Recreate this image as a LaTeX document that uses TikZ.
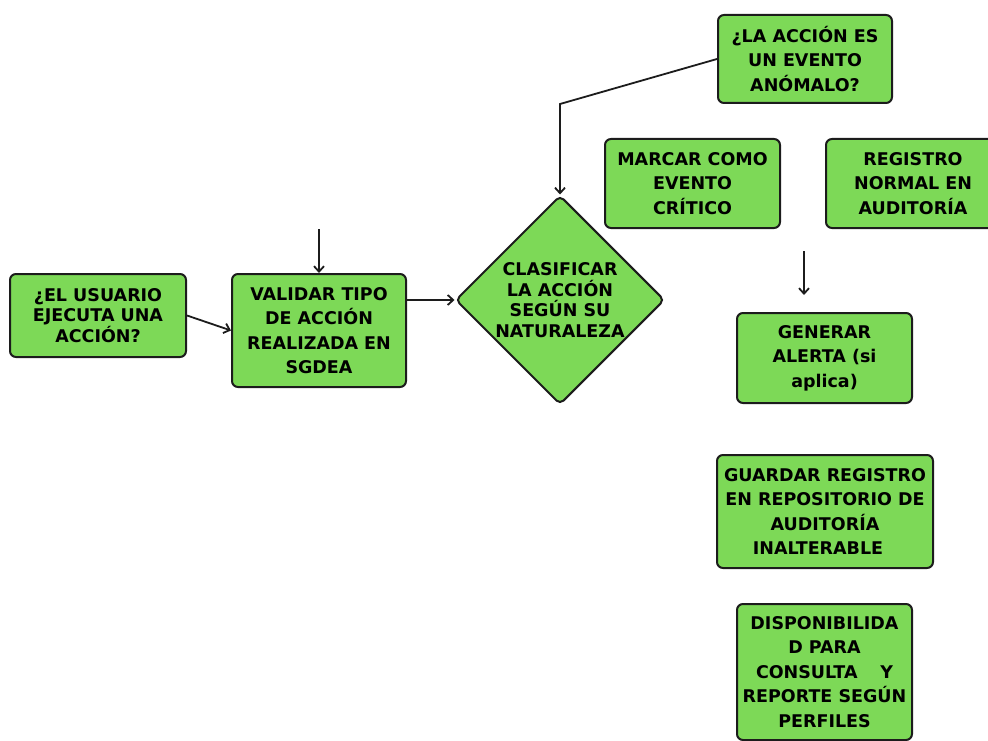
\documentclass[tikz,border=0pt]{standalone}
\usepackage{fontspec}
\setmainfont{DejaVu Sans}
\usetikzlibrary{arrows.meta, positioning, shapes.geometric}
\definecolor{boxgreen}{RGB}{125,217,87}
\definecolor{boxline}{RGB}{28,28,28}

\begin{document}
\begin{tikzpicture}[x=1pt, y=-1pt,
        box/.style={rectangle, draw=boxline, line width=2pt, rounded corners=6pt,
            fill=boxgreen, align=center, inner sep=2pt,
            font=\bfseries\fontsize{17.5}{24.5}\selectfont},
        tight/.style={font=\bfseries\fontsize{17.5}{20.5}\selectfont},
        dec/.style={diamond, draw=boxline, line width=2pt, rounded corners=5pt,
            fill=boxgreen, align=center, inner sep=0pt,
            minimum width=209pt, minimum height=209pt},
        arr/.style={-{Straight Barb[length=5.5pt,width=10pt]}, line width=1.8pt, draw=boxline}
    ]
        \useasboundingbox (0,0) rectangle (988,741);
        \clip (0,0) rectangle (988,741);

        \node[box, tight, minimum width=176pt, minimum height=83pt] (usr) at (98,315.5)
            {¿EL USUARIO\\EJECUTA UNA\\ACCIÓN?};
        \node[box, minimum width=174pt, minimum height=113pt] (val) at (319,330.5)
            {VALIDAR TIPO\\DE ACCIÓN\\REALIZADA EN\\SGDEA};
        \node[dec, tight] (cls) at (560,300)
            {CLASIFICAR\\LA ACCIÓN\\SEGÚN SU\\NATURALEZA};
        \node[box, minimum width=174pt, minimum height=88pt] (anm) at (805,59)
            {¿LA ACCIÓN ES\\UN EVENTO\\ANÓMALO?};
        \node[box, minimum width=175pt, minimum height=89pt] (crit) at (692.5,183.5)
            {MARCAR COMO\\EVENTO\\CRÍTICO};
        \node[box, minimum width=174pt, minimum height=89pt] (norm) at (913,183.5)
            {REGISTRO\\NORMAL EN\\AUDITORÍA};
        \node[box, minimum width=175pt, minimum height=90pt] (alert) at (824.5,358)
            {GENERAR\\ALERTA (si\\aplica)};
        \node[box, minimum width=216pt, minimum height=113pt] (store) at (825,511.5)
            {GUARDAR REGISTRO\\EN REPOSITORIO DE\\AUDITORÍA\\INALTERABLE\hspace*{0.8em}};
        \node[box, minimum width=175pt, minimum height=136pt] (avail) at (824.5,672)
            {DISPONIBILIDA\\D PARA\\CONSULTA\hspace{1.3em}Y\\REPORTE SEGÚN\\PERFILES};

        \coordinate (valtop) at (319,229);
        \coordinate (kink) at (560,104);
        \coordinate (alerttop) at (804,251);
        \coordinate (alertend) at (804,295);

        \draw[arr] (usr.east) -- (val.west);
        \draw[arr] (valtop) -- (val.north);
        \draw[arr] (val.east |- cls.west) -- (cls.west);
        \draw[arr] (anm.west) -- (kink) -- (cls.north);
        \draw[arr] (alerttop) -- (alertend);
    \end{tikzpicture}
\end{document}
